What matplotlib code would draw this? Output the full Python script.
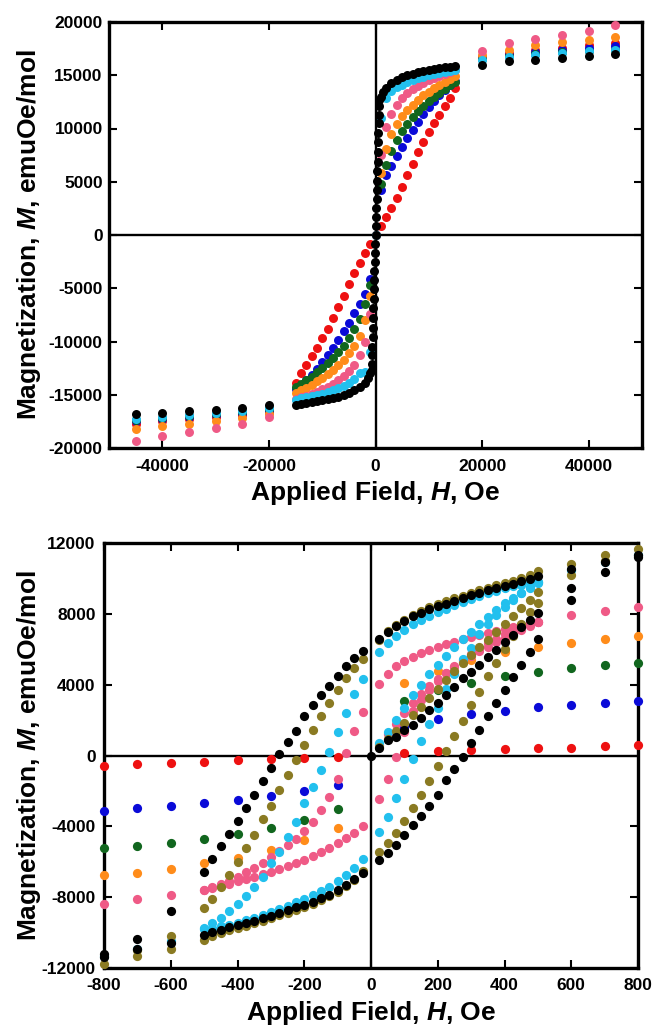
import numpy as np
import matplotlib
matplotlib.use("Agg")
import matplotlib.pyplot as plt

plt.rcParams['font.family'] = ['Liberation Sans', 'DejaVu Sans']
plt.rcParams['font.weight'] = 'bold'
plt.rcParams['axes.unicode_minus'] = False
plt.rcParams['mathtext.fontset'] = 'custom'
plt.rcParams['mathtext.it'] = 'Liberation Sans:italic:bold'
plt.rcParams['mathtext.rm'] = 'Liberation Sans:bold'

colors = {'red': '#EE1111', 'blue': '#0A0AD8', 'green': '#11661E', 'orange': '#FF8C1A',
          'pink': '#EF5A86', 'cyan': '#22C0EE', 'olive': '#8A7A22', 'black': '#000000'}

# ---------------- top panel (full field range) ----------------
H_top = [-15000, -14000, -13000, -12000, -11000, -10000, -9000, -8000, -7000, -6000, -5000,
         -4000, -3000, -2000, -1000, 0, 1000, 2000, 3000, 4000, 5000, 6000, 7000, 8000,
         9000, 10000, 11000, 12000, 13000, 14000, 15000]
H_top_far = [-45000, -40000, -35000, -30000, -25000, -20000,
             20000, 25000, 30000, 35000, 40000, 45000]

red_top = [-13900, -13000, -12200, -11400, -10600, -9700, -8800, -7800, -6800, -5700, -4600,
           -3550, -2600, -1700, -850, 0, 800, 1650, 2550, 3500, 4550, 5600, 6700, 7750,
           8750, 9650, 10500, 11300, 12100, 12900, 13800]
blue_top = [-14450, -14050, -13600, -13100, -12550, -11950, -11300, -10600, -9850, -9050, -8250,
            -7350, -6450, -5550, -4100, 0, 4200, 5600, 6500, 7400, 8300, 9100, 9900, 10650,
            11350, 12000, 12600, 13150, 13650, 14100, 14500]
green_top = [-14300, -14000, -13650, -13300, -12900, -12500, -12050, -11550, -11000, -10400, -9700,
             -8850, -7850, -6500, -4700, 0, 4800, 6600, 7900, 8900, 9750, 10450, 11050, 11600,
             12100, 12550, 12950, 13350, 13700, 14050, 14350]
orange_top = [-14850, -14600, -14350, -14050, -13750, -13400, -13050, -12650, -12200, -11700, -11100,
              -10400, -9450, -8000, -5700, 0, 5800, 8100, 9500, 10450, 11150, 11750, 12250, 12700,
              13100, 13450, 13800, 14100, 14400, 14650, 14900]
pink_top = [-15400, -15250, -15100, -14900, -14700, -14500, -14250, -13950, -13650, -13250, -12800,
            -12200, -11300, -10000, -7400, 0, 7500, 10100, 11400, 12250, 12850, 13300, 13700, 14000,
            14300, 14550, 14750, 14950, 15150, 15300, 15450]
cyan_top = [-15450, -15350, -15250, -15150, -15050, -14900, -14750, -14600, -14400, -14150, -13900,
            -13550, -13000, -12900, -11000, 0, 11000, 12900, 13500, 13850, 14100, 14350, 14550, 14700,
            14850, 15000, 15100, 15200, 15300, 15400, 15500]

H_black_top = [-15000, -14000, -13000, -12000, -11000, -10000, -9000, -8000, -7000, -6000, -5000,
               -4000, -3000, -2000, -1500, -1000, -750, -700, -650, -600, -550, -500, -450, -400,
               -350, -300, -250, -200, -150, -100, -50, 0, 50, 100, 150, 200, 250, 300, 350, 400,
               450, 500, 550, 600, 650, 700, 750, 1000, 1500, 2000, 3000, 4000, 5000, 6000, 7000,
               8000, 9000, 10000, 11000, 12000, 13000, 14000, 15000]
black_top = [-15950, -15870, -15790, -15700, -15610, -15520, -15420, -15310, -15180, -15030, -14850,
             -14600, -14300, -13850, -13400, -13000, -12700, -12100, -11300, -10500, -9600, -8700,
             -7800, -6900, -6000, -5100, -4200, -3400, -2500, -1700, -850, 0, 850, 1700, 2500,
             3400, 4200, 5100, 6000, 6900, 7800, 8700, 9600, 10500, 11300, 12100, 12700, 13000,
             13400, 13800, 14250, 14550, 14800, 14980, 15130, 15270, 15390, 15490, 15580, 15660,
             15740, 15820, 15900]

red_top_far = [-17700, -17500, -17300, -17100, -16900, -16600, 16700, 17100, 17400, 17600, 17800, 18000]
blue_top_far = [-17500, -17300, -17100, -16900, -16700, -16400, 16600, 16900, 17200, 17400, 17550, 17700]
green_top_far = [-17400, -17200, -17000, -16800, -16600, -16300, 16500, 16800, 17000, 17150, 17300, 17400]
orange_top_far = [-18200, -17900, -17700, -17500, -17200, -16800, 16900, 17400, 17800, 18100, 18300, 18600]
pink_top_far = [-19300, -18900, -18500, -18100, -17700, -17100, 17300, 18000, 18400, 18800, 19200, 19700]
cyan_top_far = [-17300, -17100, -16900, -16700, -16500, -16200, 16400, 16700, 16900, 17100, 17250, 17350]
black_top_far = [-16850, -16700, -16550, -16400, -16250, -16000, 16000, 16300, 16450, 16650, 16850, 16950]

# ---------------- bottom panel (low field loops) ----------------
H_step = [-800, -700, -600, -500, -400, -300, -200, -100, 100, 200, 300, 400, 500, 600, 700, 800]
red_bot = [-575, -480, -440, -350, -270, -215, -160, -100, 150, 270, 310, 350, 400, 430, 520, 620]
blue_bot = [-3120, -2990, -2860, -2670, -2490, -2300, -2000, -1650, 1600, 2060, 2340, 2530, 2720, 2860, 2990, 3080]
green_bot = [-5240, -5090, -4920, -4700, -4420, -4090, -3620, -3040, 3080, 3700, 4120, 4500, 4730, 4950, 5100, 5230]
orange_bot = [-6750, -6620, -6410, -6090, -5810, -5340, -4770, -4080, 4100, 4800, 5380, 5830, 6120, 6360, 6580, 6730]

H_pos = [25, 50, 75, 100, 125, 150, 175, 200, 225, 250, 275, 300, 325, 350, 375, 400, 425, 450, 475, 500]
H_neg = [-25, -50, -75, -100, -125, -150, -175, -200, -225, -250, -275, -300, -325, -350, -375, -400,
         -425, -450, -475, -500]

pink_virgin = [600, 1200, 1800, 2400, 2950, 3450, 3900, 4300, 4650, 4980, 5300, 5600, 5880, 6150, 6400,
               6650, 6880, 7100, 7320, 7550]
pink_desc_pos = [4040, 4600, 5070, 5340, 5580, 5780, 5960, 6130, 6300, 6430, 6560, 6680, 6810, 6930, 7050,
                 7170, 7280, 7380, 7480, 7550]
pink_desc_neg = [2470, 1400, 120, -1340, -2330, -3080, -3740, -4250, -4700, -5080, -5420, -5750, -6050,
                 -6330, -6600, -6850, -7070, -7280, -7450, -7600]
pink_asc_neg = [-3980, -4350, -4680, -4960, -5230, -5470, -5680, -5880, -6070, -6240, -6400, -6560, -6710,
                -6850, -6980, -7110, -7240, -7360, -7480, -7600]
pink_asc_pos = [-2470, -1340, -60, 1300, 2500, 3150, 3700, 4200, 4650, 5050, 5400, 5750, 6050, 6330, 6600,
                6850, 7070, 7280, 7450, 7550]
pink_far_H = [600, 700, 800, -600, -700, -800]
pink_far = [7910, 8170, 8410, -7900, -8130, -8410]

cyan_virgin = [700, 1300, 2000, 2700, 3400, 4000, 4600, 5100, 5600, 6100, 6600, 7000, 7400, 7800, 8200,
               8600, 8900, 9200, 9500, 9800]
cyan_desc_pos = [5850, 6350, 6750, 7100, 7400, 7650, 7900, 8100, 8300, 8480, 8650, 8820, 8990, 9150, 9300,
                 9440, 9560, 9650, 9720, 9800]
cyan_desc_neg = [4300, 3460, 2420, 1340, 220, -820, -1800, -2700, -3740, -4590, -5440, -6090, -6850, -7410,
                 -7950, -8400, -8800, -9150, -9450, -9760]
cyan_asc_neg = [-5850, -6350, -6750, -7100, -7400, -7650, -7900, -8100, -8300, -8480, -8650, -8820, -8990,
                -9150, -9300, -9440, -9560, -9650, -9720, -9780]
cyan_asc_pos = [-4300, -3460, -2420, -1340, -220, 820, 1800, 2700, 3740, 4590, 5440, 6090, 6850, 7410, 7950,
                8400, 8800, 9150, 9450, 9760]
cyan_far_H = [600, 700, 800, -600, -700, -800]
cyan_far = [10500, 10950, 11300, -10500, -10950, -11300]

olive_virgin = [500, 950, 1400, 1850, 2300, 2750, 3250, 3750, 4250, 4750, 5200, 5650, 6100, 6550, 7000,
                7450, 7900, 8350, 8800, 9250]
olive_desc_pos = [6500, 7050, 7380, 7680, 7940, 8150, 8360, 8540, 8710, 8870, 9030, 9190, 9340, 9480, 9620,
                  9750, 9880, 10020, 10200, 10420]
olive_desc_neg = [5450, 4950, 4350, 3700, 2980, 2230, 1440, 590, -250, -1100, -1950, -2850, -3600, -4490,
                  -5240, -6000, -6750, -7450, -8120, -8630]
olive_asc_neg = [-6500, -7050, -7380, -7680, -7940, -8150, -8360, -8540, -8710, -8870, -9030, -9190, -9340,
                 -9480, -9620, -9750, -9880, -10020, -10200, -10420]
olive_asc_pos = [-5450, -4950, -4350, -3700, -2980, -2230, -1440, -590, 250, 1100, 1950, 2850, 3600, 4490,
                 5240, 6000, 6750, 7450, 8120, 8630]
olive_far_H = [600, 600, 700, 700, 800, -600, -600, -700, -700, -800]
olive_far = [10190, 10840, 11000, 11300, 11680, -10190, -10930, -11000, -11300, -11750]

black_virgin = [400, 880, 1060, 1440, 1720, 2100, 2570, 2980, 3420, 3890, 4360, 4740, 5110, 5550, 5960,
                6430, 6810, 7240, 7660, 8070]
black_desc_pos = [6600, 7000, 7300, 7600, 7850, 8050, 8250, 8420, 8580, 8740, 8900, 9050, 9200, 9330, 9460,
                  9580, 9700, 9830, 9970, 10130]
black_desc_neg = [5900, 5500, 5050, 4500, 3950, 3400, 2850, 2230, 1400, 780, 85, -720, -1440, -2230, -2980,
                  -3680, -4430, -5110, -5860, -6560]
black_asc_neg = [-6650, -7000, -7300, -7600, -7850, -8050, -8250, -8420, -8580, -8740, -8900, -9050, -9200,
                 -9330, -9460, -9580, -9700, -9830, -9980, -10140]
black_asc_pos = [-5900, -5500, -5050, -4500, -3950, -3400, -2850, -2230, -1400, -780, -85, 720, 1440, 2230,
                 2980, 3680, 4430, 5110, 5860, 6560]
black_far_H = [0, 600, 600, 600, 700, 700, 800, 800, -600, -600, -700, -700, -800, -800]
black_far = [0, 8790, 9440, 10560, 10370, 10930, 11220, 11300, -8780, -10600, -10340, -10950, -11220, -11400]

# ---------------- figure ----------------
fig = plt.figure(figsize=(6.55, 10.32), dpi=100)
ax1 = fig.add_axes([109 / 655, 1 - 448 / 1032, 533 / 655, 426 / 1032])
ax2 = fig.add_axes([104 / 655, 1 - 968 / 1032, 534 / 655, 425 / 1032])


def dots(ax, h, m, c, s):
    ax.scatter(h, m, s=s, color=colors[c], linewidths=0, clip_on=False, zorder=3)


top_series = [('red', red_top, red_top_far), ('blue', blue_top, blue_top_far),
              ('green', green_top, green_top_far), ('orange', orange_top, orange_top_far),
              ('pink', pink_top, pink_top_far), ('cyan', cyan_top, cyan_top_far)]
for c, m, mfar in top_series:
    dots(ax1, H_top + H_top_far, m + mfar, c, 42)
dots(ax1, H_black_top + H_top_far, black_top + black_top_far, 'black', 42)

for c, m in [('red', red_bot), ('blue', blue_bot), ('green', green_bot), ('orange', orange_bot)]:
    dots(ax2, H_step, m, c, 44)

loops = [('pink', pink_virgin, pink_desc_pos, pink_desc_neg, pink_asc_neg, pink_asc_pos, pink_far_H, pink_far),
         ('cyan', cyan_virgin, cyan_desc_pos, cyan_desc_neg, cyan_asc_neg, cyan_asc_pos, cyan_far_H, cyan_far),
         ('olive', olive_virgin, olive_desc_pos, olive_desc_neg, olive_asc_neg, olive_asc_pos, olive_far_H, olive_far),
         ('black', black_virgin, black_desc_pos, black_desc_neg, black_asc_neg, black_asc_pos, black_far_H, black_far)]
for c, vir, dp, dn, an, ap, fh, fm in loops:
    h = H_pos + H_pos + H_neg + H_neg + H_pos + fh
    m = vir + dp + dn + an + ap + fm
    dots(ax2, h, m, c, 44)

for ax in (ax1, ax2):
    ax.axhline(0, color='k', lw=1.7, zorder=1)
    ax.axvline(0, color='k', lw=1.7, zorder=1)
    for sp in ax.spines.values():
        sp.set_linewidth(2.4)
    ax.tick_params(direction='in', length=6, width=1.5, top=True, right=True, labelsize=12.5)

ax1.set_xlim(-50000, 50000)
ax1.set_ylim(-20000, 20000)
ax1.set_xticks([-40000, -20000, 0, 20000, 40000])
ax1.set_yticks(np.arange(-20000, 20001, 5000))
ax1.tick_params(axis='x', pad=8)
ax1.tick_params(axis='y', pad=4.5)

ax2.set_xlim(-800, 800)
ax2.set_ylim(-12000, 12000)
ax2.set_xticks(np.arange(-800, 801, 200))
ax2.set_yticks(np.arange(-12000, 12001, 4000))
ax2.tick_params(axis='x', pad=7)
ax2.tick_params(axis='y', pad=6)

for ax, lx, ly in [(ax1, (43 - 109) / 533, -0.073), (ax2, (43 - 104) / 534, -0.073)]:
    ax.set_xlabel(r'Applied Field, $H$, Oe', fontsize=19, fontweight='bold')
    ax.set_ylabel(r'Magnetization, $M$, emuOe/mol', fontsize=19, fontweight='bold')
    ax.xaxis.set_label_coords(0.5, ly)
    ax.yaxis.set_label_coords(lx, 0.5)

fig.savefig('out.png', dpi=100)
